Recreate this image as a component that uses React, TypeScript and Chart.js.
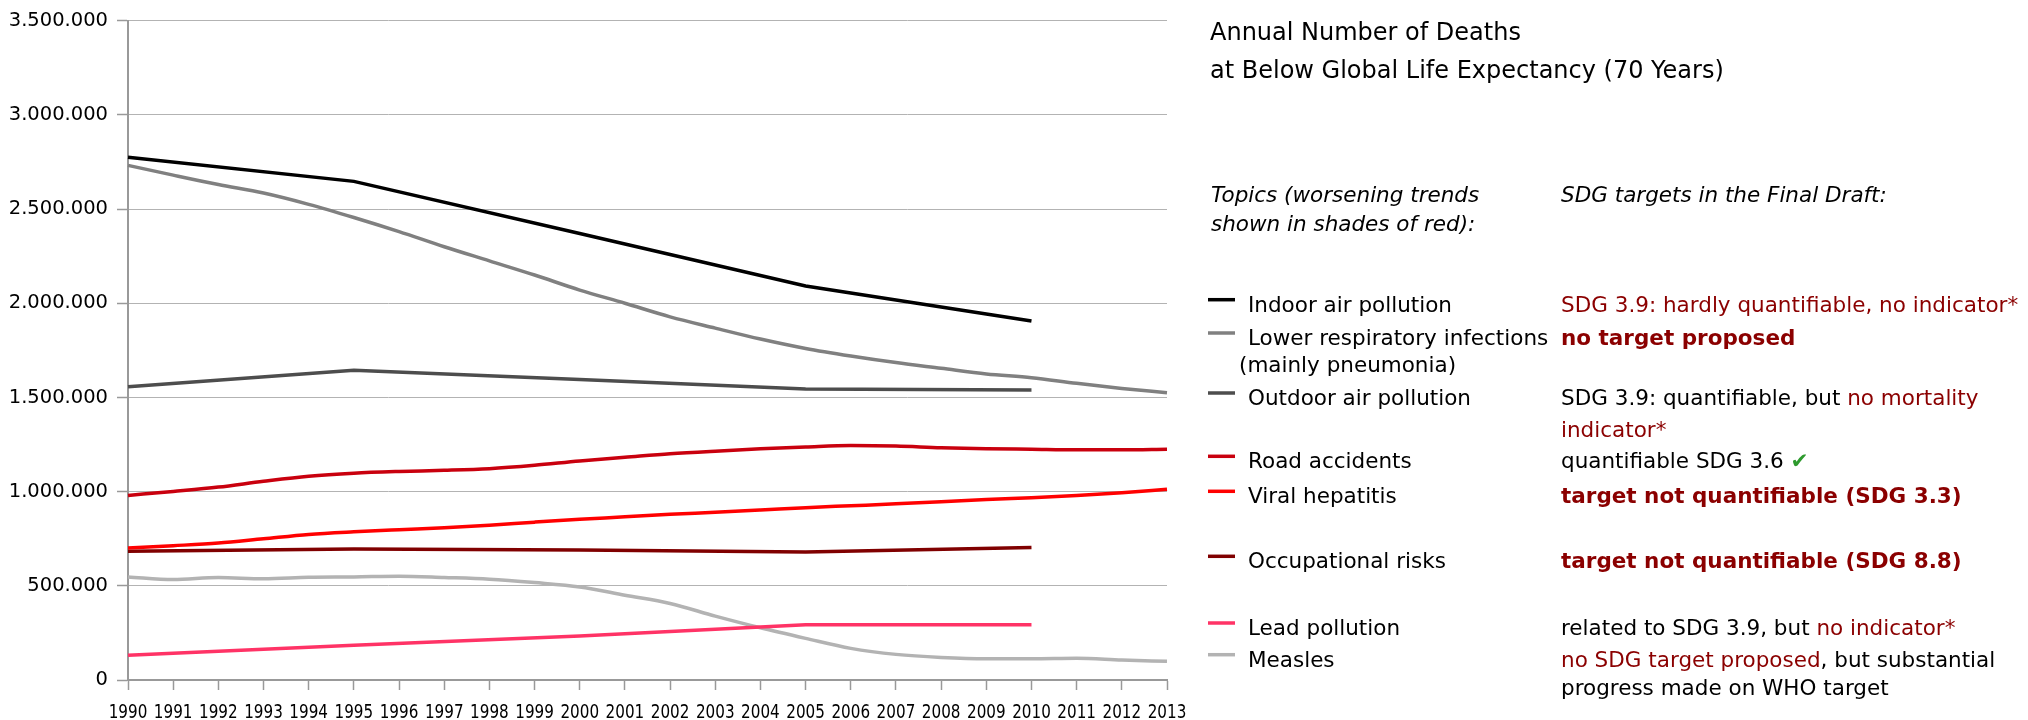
import React, { useEffect, useRef } from 'react';
import { Chart, registerables } from 'chart.js';

Chart.register(...registerables);

// ---------- data ----------
const YEARS = [
  '1990', '1991', '1992', '1993', '1994', '1995', '1996', '1997', '1998', '1999', '2000', '2001',
  '2002', '2003', '2004', '2005', '2006', '2007', '2008', '2009', '2010', '2011', '2012', '2013',
];

const INDOOR_AIR = [
  2775000, null, null, null, null, 2647000, null, null, null, null, 2370000, null,
  null, null, null, 2092000, null, null, null, null, 1906000, null, null, null,
];
const LOWER_RESP = [
  2732000, 2680000, 2630000, 2585000, 2525000, 2455000, 2380000, 2300000, 2225000, 2150000, 2070000, 2000000,
  1928000, 1868000, 1810000, 1760000, 1720000, 1685000, 1655000, 1625000, 1605000, 1575000, 1548000, 1525000,
];
const OUTDOOR_AIR = [
  1557000, null, null, null, null, 1644000, null, null, null, null, 1595000, null,
  null, null, null, 1545000, null, null, null, null, 1540000, null, null, null,
];
const ROAD = [
  980000, 1001000, 1024000, 1055000, 1082000, 1098000, 1107000, 1113000, 1122000, 1140000, 1163000, 1182000,
  1201000, 1215000, 1227000, 1237000, 1245000, 1242000, 1233000, 1228000, 1225000, 1222000, 1222000, 1225000,
];
const HEPATITIS = [
  701000, 713000, 727000, 750000, 773000, 787000, 798000, 808000, 822000, 838000, 853000, 866000,
  880000, 890000, 902000, 915000, 925000, 935000, 946000, 958000, 968000, 979000, 994000, 1012000,
];
const OCCUPATIONAL = [
  683000, null, null, null, null, 695000, null, null, null, null, 690000, null,
  null, null, null, 680000, null, null, null, null, 703000, null, null, null,
];
const LEAD = [
  131000, null, null, null, null, 185000, null, null, null, null, 233000, null,
  null, null, null, 293000, null, null, null, null, 293000, null, null, null,
];
const MEASLES = [
  547000, 533000, 544000, 537000, 545000, 547000, 551000, 544000, 535000, 517000, 494000, 450000,
  406000, 339000, 277000, 221000, 168000, 136000, 120000, 113000, 113000, 116000, 106000, 99000,
];

const SERIES_NAMES: string[][] = [
  ['Indoor air pollution'],
  ['Lower respiratory infections', '(mainly pneumonia)'],
  ['Outdoor air pollution'],
  ['Road accidents'],
  ['Viral hepatitis'],
  ['Occupational risks'],
  ['Lead pollution'],
  ['Measles'],
];
const SERIES_VALUES = [INDOOR_AIR, LOWER_RESP, OUTDOOR_AIR, ROAD, HEPATITIS, OCCUPATIONAL, LEAD, MEASLES];
const SERIES_COLORS = ['#000000', '#808080', '#4d4d4d', '#c9000e', '#ff0000', '#800000', '#ff3366', '#b3b3b3'];
const SERIES_SMOOTH = [false, true, false, true, true, false, false, true];

const TITLE_LINES = ['Annual Number of Deaths', 'at Below Global Life Expectancy (70 Years)'];
const TOPICS_HEADER = ['Topics (worsening trends', 'shown in shades of red):'];
const SDG_HEADER = 'SDG targets in the Final Draft:';

type Seg = [string, 'plain' | 'dark' | 'boldDark' | 'check'];
const SDG_NOTES: Seg[][][] = [
  [[['SDG 3.9: hardly quantifiable, no indicator*', 'dark']]],
  [[['no target proposed', 'boldDark']]],
  [[['SDG 3.9: quantifiable, but ', 'plain'], ['no mortality', 'dark']], [['indicator*', 'dark']]],
  [[['quantifiable SDG 3.6 ', 'plain'], ['\u2714', 'check']]],
  [[['target not quantifiable (SDG 3.3)', 'boldDark']]],
  [[['target not quantifiable (SDG 8.8)', 'boldDark']]],
  [[['related to SDG 3.9, but ', 'plain'], ['no indicator*', 'dark']]],
  [[['no SDG target proposed', 'dark'], [', but substantial', 'plain']], [['progress made on WHO target', 'plain']]],
];

// ---------- layout constants for the side panel ----------
const ROW_BASE = [311.7, 345, 405, 468.3, 503.3, 568.3, 635, 666.7];
const ROW_SECOND = [0, 371.7, 436.7, 0, 0, 0, 0, 695];
const FONT = '"DejaVu Sans", Verdana, sans-serif';

const fmt = (v: number) => String(Math.round(v)).replace(/\B(?=(\d{3})+(?!\d))/g, '.');

// x-axis labels: drawn at the category scale's tick pixels, horizontally squeezed like the original
const xLabelPlugin = {
  id: 'xLabels',
  afterDraw(chart: any) {
    const ctx: CanvasRenderingContext2D = chart.ctx;
    const sx = chart.scales.x;
    ctx.save();
    ctx.fillStyle = '#000';
    ctx.textAlign = 'center';
    ctx.textBaseline = 'alphabetic';
    ctx.font = `20px ${FONT}`;
    sx.ticks.forEach((t: any, i: number) => {
      const x = sx.getPixelForTick(i);
      ctx.save();
      ctx.translate(x, 717.5);
      ctx.scale(0.76, 1);
      ctx.fillText(String(sx.getLabelForValue(t.value)), 0, 0);
      ctx.restore();
    });
    ctx.restore();
  },
};

const panelPlugin = {
  id: 'sidePanel',
  afterDraw(chart: any) {
    const ctx: CanvasRenderingContext2D = chart.ctx;
    ctx.save();
    ctx.textAlign = 'left';
    ctx.textBaseline = 'alphabetic';
    ctx.fillStyle = '#000';
    ctx.font = `24px ${FONT}`;
    ctx.fillText(TITLE_LINES[0], 1210, 40);
    ctx.fillText(TITLE_LINES[1], 1210, 78);

    ctx.font = `italic 21.5px ${FONT}`;
    ctx.fillText(TOPICS_HEADER[0], 1211, 202);
    ctx.fillText(TOPICS_HEADER[1], 1211, 231);
    ctx.fillText(SDG_HEADER, 1561, 202);

    chart.data.datasets.forEach((ds: any, i: number) => {
      const y = ROW_BASE[i];
      ctx.strokeStyle = ds.borderColor;
      ctx.lineWidth = 3.5;
      ctx.beginPath();
      ctx.moveTo(1208, y - 12);
      ctx.lineTo(1235, y - 12);
      ctx.stroke();

      ctx.font = `21.5px ${FONT}`;
      ctx.fillStyle = '#000';
      const names = SERIES_NAMES[i];
      ctx.fillText(names[0], 1248, y);
      if (names[1]) ctx.fillText(names[1], 1239, ROW_SECOND[i]);

      SDG_NOTES[i].forEach((line, li) => {
        let x = 1561;
        const yy = li === 0 ? y : ROW_SECOND[i];
        line.forEach(([text, kind]) => {
          ctx.font = `${kind === 'boldDark' ? 'bold ' : ''}21.5px ${FONT}`;
          ctx.fillStyle = kind === 'plain' ? '#000' : kind === 'check' ? '#2e9a2e' : '#8b0000';
          ctx.fillText(text, x, yy);
          x += ctx.measureText(text).width;
        });
      });
    });
    ctx.restore();
  },
};

export default function App() {
  const ref = useRef<HTMLCanvasElement>(null);

  useEffect(() => {
    if (!ref.current) return;
    const chart = new Chart(ref.current, {
      type: 'line',
      data: {
        labels: YEARS,
        datasets: SERIES_VALUES.map((vals, i) => ({
          label: SERIES_NAMES[i].join(' '),
          data: vals,
          borderColor: SERIES_COLORS[i],
          backgroundColor: SERIES_COLORS[i],
          borderWidth: 3.5,
          pointRadius: 0,
          spanGaps: true,
          tension: SERIES_SMOOTH[i] ? 0.4 : 0,
          cubicInterpolationMode: SERIES_SMOOTH[i] ? 'monotone' : 'default',
          fill: false,
        })),
      },
      options: {
        responsive: false,
        animation: false,
        devicePixelRatio: 1,
        layout: { padding: { top: 19, right: 861, left: 0, bottom: 0 } },
        plugins: {
          legend: { display: false },
          tooltip: { enabled: false },
          title: { display: false },
        },
        scales: {
          x: {
            type: 'category',
            offset: false,
            grid: {
              display: true,
              drawOnChartArea: false,
              drawTicks: true,
              tickLength: 10,
              tickColor: '#999999',
              tickWidth: 1.5,
            },
            border: { display: true, color: '#999999', width: 2 },
            ticks: {
              display: false,
              autoSkip: false,
              maxRotation: 0,
              minRotation: 0,
            },
            afterFit: (s: any) => { s.height = 40; },
          },
          y: {
            min: 0,
            max: 3500000,
            grid: {
              color: '#b3b3b3',
              lineWidth: 1,
              tickLength: 11,
              tickColor: '#999999',
              tickWidth: 1.5,
            },
            border: { display: true, color: '#999999', width: 2 },
            ticks: {
              stepSize: 500000,
              padding: 9,
              color: '#000',
              font: { family: FONT, size: 19.5 },
              callback: (v: any) => fmt(Number(v)),
            },
            afterFit: (s: any) => { s.width = 128; },
          },
        },
      },
      plugins: [xLabelPlugin, panelPlugin],
    } as any);
    return () => chart.destroy();
  }, []);

  return (
    <div style={{ position: 'absolute', left: 0, top: 0, width: 2028, height: 720, background: '#fff' }}>
      <canvas ref={ref} width={2028} height={720} style={{ width: 2028, height: 720, display: 'block' }} />
    </div>
  );
}
